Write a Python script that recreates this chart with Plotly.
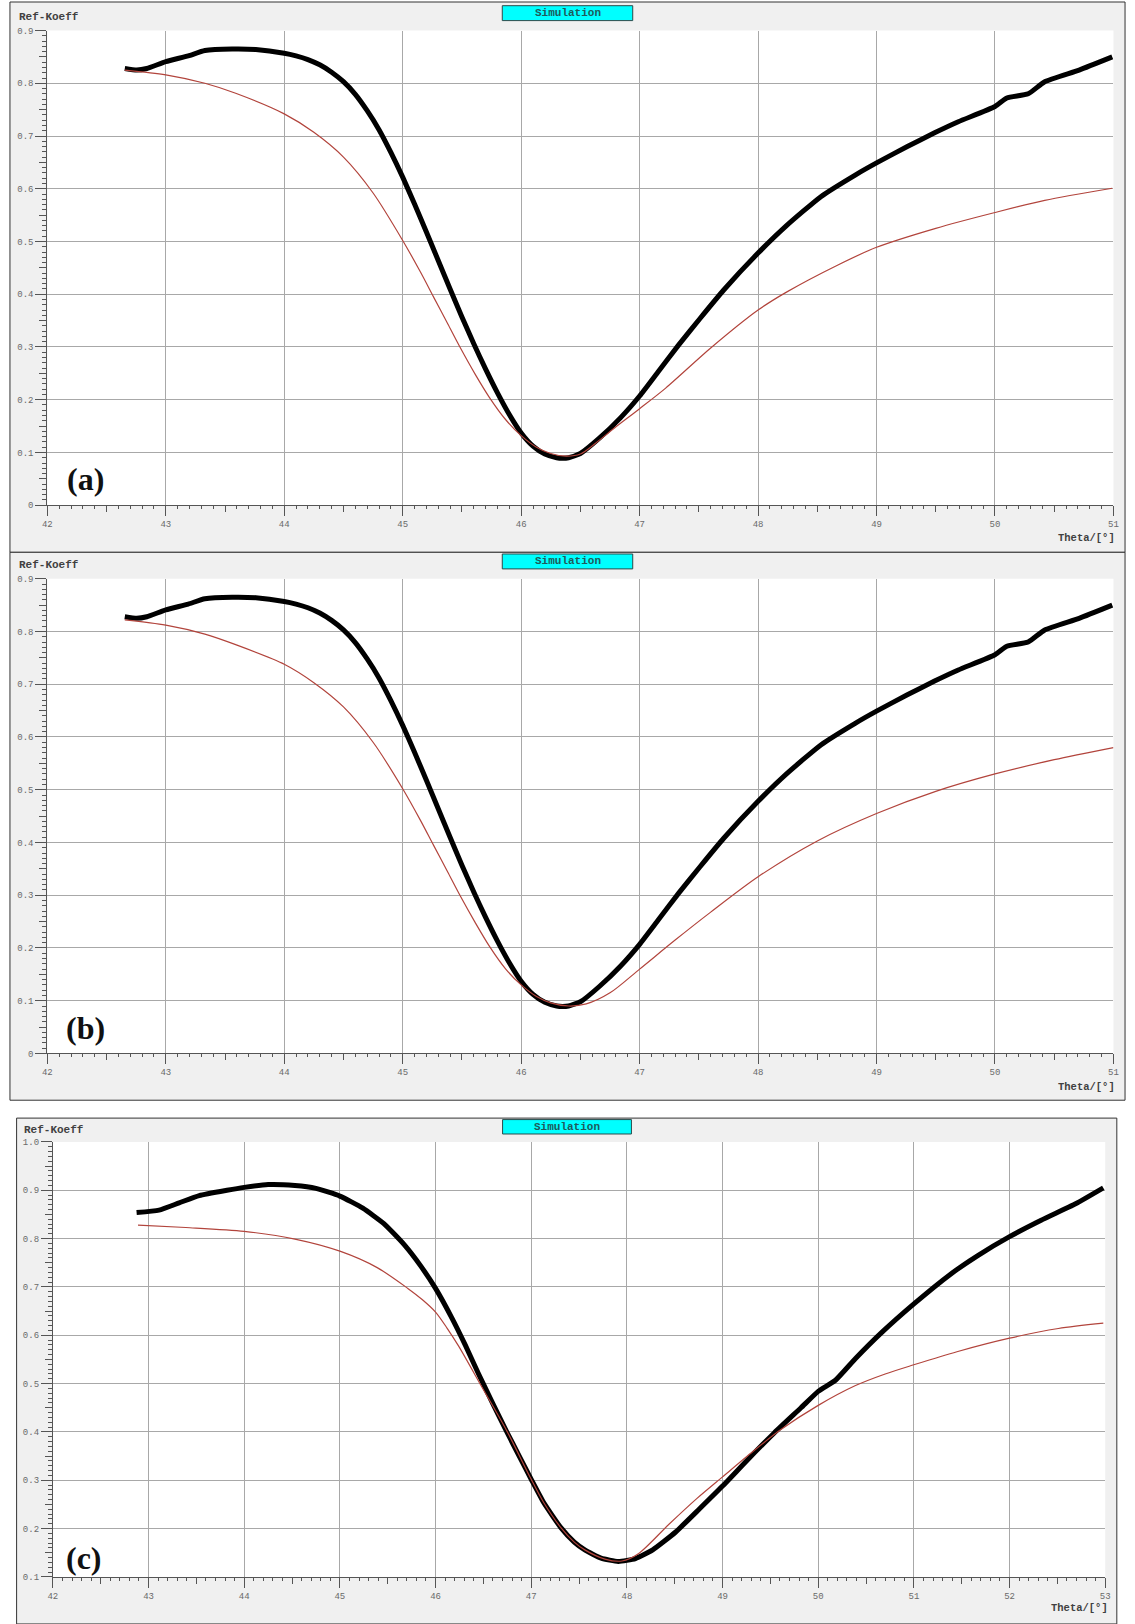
import plotly.graph_objects as go

W, H = 1135, 1624

# ---------------- data ----------------
# Panel (a)
theta_a_meas = [42.654, 42.755, 42.84, 43.0, 43.19, 43.33, 43.56, 43.76, 44.0, 44.1,
                44.2, 44.3, 44.4, 44.5, 44.6, 44.7, 44.8, 44.9, 45.0, 45.1,
                45.2, 45.3, 45.4, 45.5, 45.6, 45.7, 45.8, 45.9, 46.0, 46.1,
                46.2, 46.3, 46.35, 46.4, 46.5, 46.66, 46.84, 47.0, 47.16, 47.33,
                47.51, 47.71, 48.0, 48.24, 48.53, 48.82, 49.0, 49.26, 49.49, 49.69,
                50.0, 50.10, 50.28, 50.42, 50.71, 50.99]
r_a_meas = [0.828, 0.825, 0.828, 0.841, 0.852, 0.862, 0.865, 0.864, 0.857, 0.852,
            0.845, 0.835, 0.821, 0.803, 0.779, 0.748, 0.712, 0.669, 0.622, 0.571,
            0.518, 0.464, 0.410, 0.357, 0.306, 0.258, 0.213, 0.172, 0.137, 0.112,
            0.097, 0.090, 0.089, 0.090, 0.098, 0.127, 0.166, 0.207, 0.254, 0.304,
            0.354, 0.408, 0.478, 0.530, 0.585, 0.626, 0.649, 0.680, 0.706, 0.727,
            0.756, 0.772, 0.780, 0.803, 0.825, 0.850]
theta_a_sim = [42.654, 43.0, 43.33, 43.59, 44.0, 44.25, 44.5, 44.75, 45.0, 45.15,
               45.26, 45.38, 45.49, 45.61, 45.73, 45.87, 46.0, 46.13, 46.25, 46.38,
               46.5, 46.62, 46.78, 47.0, 47.22, 47.6, 48.0, 48.24, 48.67, 49.0,
               49.5, 50.0, 50.42, 50.99]
r_a_sim = [0.825, 0.816, 0.800, 0.781, 0.742, 0.707, 0.660, 0.592, 0.502, 0.442,
           0.395, 0.344, 0.297, 0.249, 0.205, 0.162, 0.132, 0.110, 0.098, 0.093,
           0.097, 0.116, 0.145, 0.183, 0.222, 0.298, 0.370, 0.404, 0.455, 0.489,
           0.525, 0.555, 0.578, 0.601]

# Panel (b)
theta_b_meas = list(theta_a_meas)
r_b_meas = list(r_a_meas)
theta_b_sim = [42.654, 43.0, 43.33, 43.59, 44.0, 44.25, 44.5, 44.75, 45.0, 45.15,
               45.26, 45.38, 45.49, 45.61, 45.73, 45.87, 46.0, 46.13, 46.25, 46.4,
               46.55, 46.75, 47.0, 47.3, 47.6, 48.0, 48.5, 49.0, 49.5, 50.0,
               50.5, 51.0]
r_b_sim = [0.822, 0.812, 0.795, 0.775, 0.738, 0.703, 0.657, 0.590, 0.502, 0.442,
           0.395, 0.344, 0.297, 0.249, 0.204, 0.160, 0.130, 0.108, 0.096, 0.090,
           0.094, 0.115, 0.160, 0.215, 0.268, 0.335, 0.403, 0.455, 0.497, 0.530,
           0.557, 0.580]

# Panel (c)
theta_c_meas = [42.875, 43.11, 43.32, 43.53, 43.82, 44.0, 44.25, 44.53, 44.75, 45.0,
                45.24, 45.46, 45.67, 45.85, 46.0, 46.17, 46.31, 46.45, 46.60, 46.74,
                46.88, 47.0, 47.13, 47.31, 47.45, 47.56, 47.73, 47.91, 48.09, 48.27,
                48.51, 48.76, 49.0, 49.26, 49.54, 49.82, 50.0, 50.18, 50.39, 50.67,
                51.0, 51.38, 51.66, 52.0, 52.33, 52.69, 52.98]
r_c_meas = [0.854, 0.859, 0.874, 0.889, 0.900, 0.906, 0.912, 0.910, 0.904, 0.888,
            0.863, 0.831, 0.788, 0.742, 0.697, 0.636, 0.580, 0.520, 0.458, 0.402,
            0.348, 0.302, 0.254, 0.202, 0.172, 0.156, 0.139, 0.132, 0.138, 0.156,
            0.193, 0.241, 0.288, 0.342, 0.398, 0.450, 0.484, 0.507, 0.552, 0.607,
            0.665, 0.726, 0.764, 0.804, 0.838, 0.872, 0.905]
theta_c_sim = [42.89, 43.39, 44.0, 44.53, 45.0, 45.39, 45.71, 45.86, 46.0, 46.12,
               46.24, 46.49, 46.74, 47.0, 47.13, 47.31, 47.45, 47.56, 47.77, 47.95,
               48.12, 48.44, 48.73, 49.0, 49.32, 49.61, 50.0, 50.39, 50.7, 51.0,
               51.45, 52.0, 52.51, 52.98]
r_c_sim = [0.828, 0.823, 0.815, 0.799, 0.774, 0.740, 0.697, 0.674, 0.648, 0.615,
           0.578, 0.491, 0.404, 0.302, 0.254, 0.202, 0.172, 0.156, 0.137, 0.133,
           0.148, 0.209, 0.262, 0.307, 0.360, 0.405, 0.455, 0.496, 0.520, 0.539,
           0.566, 0.594, 0.614, 0.625]

x_ranges = {"a": [42, 51], "b": [42, 51], "c": [42, 53]}
y_ranges = {"a": [0, 0.9], "b": [0, 0.9], "c": [0.1, 1.0]}
panel_labels = {"a": "(a)", "b": "(b)", "c": "(c)"}
y_title = "Ref-Koeff"
x_title = "Theta/[°]"
box_title = "Simulation"

# ---------------- styling / layout helpers ----------------
def fx(p):
    return p / W

def fy(p):
    return 1 - p / H

MONO = "Liberation Mono, Courier New, monospace"
SERIF = "Liberation Serif, Times New Roman, serif"
GRAY_BG = "#f0f0f0"
GRID = "#a8a8a8"
AXC = "#555555"
TICKF = dict(family=MONO, size=9, color="#6a6a6a")

# pixel geometry of each panel
geo = {
    "a": dict(plot=(42.7, 26.7, 1118.3, 504.3), panel=(5, -2, 1130, 551.7),
              ylab=(12, 12.7), xlab=(1122, 537.7), tag=(81, 478),
              box=(501.7, 1.7, 633.3, 16.7)),
    "b": dict(plot=(42.7, 578.3, 1118.3, 1056.0), panel=(5, 551.7, 1130, 1103),
              ylab=(12, 564.4), xlab=(1122, 1089.7), tag=(81, 1030),
              box=(501.7, 553.4, 633.3, 568.4)),
    "c": dict(plot=(48.3, 1145.0, 1110.0, 1582.7), panel=(11.7, 1121, 1121.7, 1630),
              ylab=(17.3, 1133.3), xlab=(1115, 1614), tag=(79.5, 1564),
              box=(502, 1122.5, 632, 1137)),
}

data = {
    "a": (theta_a_meas, r_a_meas, theta_a_sim, r_a_sim),
    "b": (theta_b_meas, r_b_meas, theta_b_sim, r_b_sim),
    "c": (theta_c_meas, r_c_meas, theta_c_sim, r_c_sim),
}

fig = go.Figure()
layout = dict(width=W, height=H, margin=dict(l=0, r=0, t=0, b=0, pad=0),
              paper_bgcolor="white", plot_bgcolor="rgba(0,0,0,0)",
              showlegend=False)
shapes = []
annotations = []

for i, key in enumerate(["a", "b", "c"]):
    g = geo[key]
    x0, y0, x1, y1 = g["plot"]
    n = i + 1
    mx, my = n + 3, n + 3  # overlay axes for medium ticks
    xid = "x" if n == 1 else f"x{n}"
    yid = "y" if n == 1 else f"y{n}"
    xr, yr = x_ranges[key], y_ranges[key]

    layout[f"xaxis{'' if n == 1 else n}"] = dict(
        domain=[fx(x0), fx(x1)], range=xr, anchor=yid, dtick=1, tick0=xr[0],
        showgrid=True, gridcolor=GRID, gridwidth=1, zeroline=False,
        showline=True, linecolor=AXC, linewidth=1,
        ticks="outside", ticklen=10, tickcolor=AXC, tickwidth=1,
        tickfont=TICKF,
        minor=dict(dtick=0.1, ticklen=3, tickcolor=AXC, ticks="outside", showgrid=False),
    )
    layout[f"yaxis{'' if n == 1 else n}"] = dict(
        domain=[fy(y1), fy(y0)], range=yr, anchor=xid, dtick=0.1, tick0=0,
        showgrid=True, gridcolor=GRID, gridwidth=1, zeroline=False,
        showline=True, linecolor=AXC, linewidth=1,
        ticks="outside", ticklen=11, tickcolor=AXC, tickwidth=1,
        tickfont=TICKF, tickformat=".1f" if key == "c" else None,
        minor=dict(dtick=0.01, ticklen=4, tickcolor=AXC, ticks="outside", showgrid=False),
    )
    # medium ticks (half steps)
    layout[f"xaxis{mx}"] = dict(
        overlaying=xid, range=xr, anchor=f"y{my}", tick0=xr[0], dtick=0.5,
        ticks="outside", ticklen=6, tickcolor=AXC, showticklabels=False,
        showgrid=False, zeroline=False, showline=False)
    layout[f"yaxis{my}"] = dict(
        overlaying=yid, range=yr, anchor=f"x{mx}", tick0=0, dtick=0.05,
        ticks="outside", ticklen=7, tickcolor=AXC, showticklabels=False,
        showgrid=False, zeroline=False, showline=False)
    fig.add_trace(go.Scatter(x=[None], y=[None], xaxis=f"x{mx}", yaxis=f"y{my}",
                             hoverinfo="skip", showlegend=False))

    tm, rm, ts, rs = data[key]
    fig.add_trace(go.Scatter(x=tm, y=rm, xaxis=xid, yaxis=yid, mode="lines",
                             line=dict(color="black", width=5, shape="spline", smoothing=0.5),
                             name="Messung"))
    fig.add_trace(go.Scatter(x=ts, y=rs, xaxis=xid, yaxis=yid, mode="lines",
                             line=dict(color="#b2443c", width=1.2, shape="spline", smoothing=0.8),
                             name="Simulation"))

    # panel background and white plot area
    px0, py0, px1, py1 = g["panel"]
    shapes.append(dict(type="rect", xref="paper", yref="paper", layer="below",
                       x0=fx(px0), x1=fx(px1), y0=fy(py1), y1=fy(py0),
                       fillcolor=GRAY_BG, line=dict(color="#333333", width=1)))
    shapes.append(dict(type="rect", xref="paper", yref="paper", layer="below",
                       x0=fx(x0), x1=fx(x1), y0=fy(y1), y1=fy(y0),
                       fillcolor="white", line=dict(width=0)))
    # Simulation box
    bx0, by0, bx1, by1 = g["box"]
    shapes.append(dict(type="rect", xref="paper", yref="paper", layer="above",
                       x0=fx(bx0), x1=fx(bx1), y0=fy(by1), y1=fy(by0),
                       fillcolor="#00ffff", line=dict(color="#2b4a4a", width=1)))
    annotations.append(dict(xref="paper", yref="paper", x=fx((bx0 + bx1) / 2),
                            y=fy((by0 + by1) / 2), text=f"<b>{box_title}</b>",
                            showarrow=False, xanchor="center", yanchor="middle",
                            font=dict(family=MONO, size=11, color="#1f5a5a")))
    annotations.append(dict(xref="paper", yref="paper", x=fx(g["ylab"][0]), y=fy(g["ylab"][1]),
                            text=f"<b>{y_title}</b>", showarrow=False,
                            xanchor="left", yanchor="middle",
                            font=dict(family=MONO, size=11, color="#404040")))
    annotations.append(dict(xref="paper", yref="paper", x=fx(g["xlab"][0]), y=fy(g["xlab"][1]),
                            text=f"<b>{x_title}</b>", showarrow=False,
                            xanchor="right", yanchor="middle",
                            font=dict(family=MONO, size=10.5, color="#404040")))
    annotations.append(dict(xref="paper", yref="paper", x=fx(g["tag"][0]), y=fy(g["tag"][1]),
                            text=f"<b>{panel_labels[key]}</b>", showarrow=False,
                            xanchor="center", yanchor="middle",
                            font=dict(family=SERIF, size=32, color="#111111")))

layout["shapes"] = shapes
layout["annotations"] = annotations
fig.update_layout(**layout)
fig.write_html("out.html")
